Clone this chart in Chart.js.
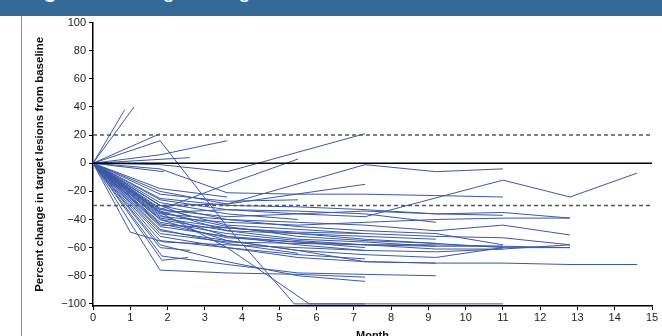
<!DOCTYPE html>
<html>
<head>
<meta charset="utf-8">
<script src="https://cdn.jsdelivr.net/npm/chart.js@4.4.1/dist/chart.umd.min.js"></script>
<style>
    html, body {
        margin: 0;
        padding: 0;
        width: 662px;
        height: 336px;
        overflow: hidden;
        background: #fff;
    }
    #header {
        position: absolute;
        left: 0;
        top: 0;
        width: 662px;
        height: 16px;
        background: #356a98;
        overflow: hidden;
    }
    #header span {
        position: absolute;
        left: 25px;
        top: -21px;
        font-size: 21px;
        font-family: "Liberation Sans", Arial, sans-serif;
        color: #fff;
        white-space: nowrap;
    }
    #edge {
        position: absolute;
        left: 21px;
        top: 16px;
        width: 1px;
        height: 320px;
        background: #6a95c2;
    }
    #wrap {
        position: absolute;
        left: 22px;
        top: 13px;
        width: 640px;
        height: 338px;
    }
</style>
</head>
<body>
<div id="header"><span><b>Figure 2</b> Change in target lesions over time</span></div>
<div id="edge"></div>
<div id="wrap"><canvas id="spider"></canvas></div>

<script>
// ============================================
// Data
// ============================================

const xTicks = [0, 1, 2, 3, 4, 5, 6, 7, 8, 9, 10, 11, 12, 13, 14, 15];
const yTicks = [-100, -80, -60, -40, -20, 0, 20, 40, 60, 80, 100];

// Reference levels: +20% (progression), -30% (response), baseline
const dashedLevels = [20, -30];
const baselineLevel = 0;

// One entry per patient: months of assessment and % change at each
const trackMonths = [
    [0, 0.85],
    [0, 1.1],
    [0, 1.8],
    [0, 1.8, 3.6, 5.4, 7.3, 9.2, 11],
    [0, 1.8, 3.6],
    [0, 2.6],
    [0, 1.8, 3.6, 7.3],
    [0, 1.9],
    [0, 1.8, 3.6, 7.3, 9.2, 11],
    [0, 1.8, 3.6, 5.5],
    [0, 1.8, 3.6, 7.3],
    [0, 1.8, 3.6, 5.5, 7.3, 11, 12.8, 14.6],
    [0, 1.8, 3.6, 5.5, 7.3, 9.2, 11],
    [0, 1.0, 1.9, 3.6, 5.5, 7.3],
    [0, 1.8, 3.6, 5.5, 7.3],
    [0, 1.85, 2.55],
    [0, 1.85, 3.6, 5.5, 7.3, 9.2],
    [0, 1.8, 3.6, 5.5, 7.3],
    [0, 1.8, 3.6, 5.8, 7.3],
    [0, 1.8, 3.6, 5.5, 7.3, 9.2, 11],
    [0, 1.8, 3.6, 5.5, 7.3, 9.2, 11, 12.8],
    [0, 1.8, 3.6, 5.5, 7.3, 9.2, 11, 12.8],
    [0, 1.8, 3.6, 5.5, 7.3, 9.2],
    [0, 1.8, 3.6, 5.5, 7.3, 9.2, 11],
    [0, 1.8, 3.6, 5.5, 7.3, 9.2, 11],
    [0, 1.8, 3.6, 5.5],
    [0, 1.8, 3.6, 5.5, 7.3, 9.2, 11, 12.8, 14.6],
    [0, 1.8, 3.6, 5.5, 7.3, 9.2, 11, 12.8],
    [0, 1.8, 3.6, 5.5, 7.3, 9.2, 11, 12.8],
    [0, 1.8, 3.6, 5.5, 7.3, 9.2, 11, 12.8],
    [0, 1.8, 3.6, 5.5, 7.3, 9.2, 11, 12.8],
    [0, 1.8, 3.6, 5.5, 7.3, 9.2, 11],
    [0, 1.8, 3.6, 5.5, 7.3, 9.2, 11],
    [0, 1.8, 3.6, 5.5, 7.3],
    [0, 1.8, 3.6, 5.5, 7.3, 9.2],
    [0, 1.8, 3.6, 5.5, 7.3, 9.2],
    [0, 1.8, 3.6, 5.5, 7.3],
    [0, 1.8, 3.6, 5.5],
    [0, 1.8, 2.6],
    [0, 1.8, 3.6, 5.5, 7.3, 9.2],
    [0, 1.8, 2.6],
    [0, 1.8, 3.6, 5.5, 7.3, 9.2],
    [0, 1.8, 3.6, 5.5, 7.3, 9.2, 11, 12.8],
    [0, 1.8, 3.6, 5.5],
    [0, 1.8, 3.6],
    [0, 1.8, 3.6, 5.5, 7.3],
];

const trackValues = [
    [0, 38],
    [0, 40],
    [0, 21],
    [0, 16, -45, -100, -100, -100, -100],
    [0, 6, 16],
    [0, 4],
    [0, -1, -6, 21],
    [0, -6],
    [0, -20, -29, -1, -6, -4],
    [0, -33, -15, 3],
    [0, -30, -29, -15],
    [0, -35, -33, -36, -38, -12, -24, -7],
    [0, -4, -21, -22, -22, -23, -24],
    [0, -49, -56, -58, -60, -62],
    [0, -76, -78, -79, -81],
    [0, -69, -67],
    [0, -66, -72, -78, -79, -80],
    [0, -58, -70, -80, -84],
    [0, -35, -60, -100, -100],
    [0, -30, -40, -45, -48, -50, -58],
    [0, -35, -45, -52, -55, -57, -60, -60],
    [0, -38, -42, -44, -42, -40, -39, -39],
    [0, -40, -48, -50, -52, -54],
    [0, -42, -50, -55, -58, -59, -59],
    [0, -45, -52, -58, -62, -63, -61],
    [0, -28, -36, -40],
    [0, -48, -55, -62, -70, -71, -71, -72, -72],
    [0, -33, -38, -36, -34, -36, -35, -39],
    [0, -36, -40, -42, -44, -48, -44, -51],
    [0, -32, -44, -47, -50, -52, -53, -58],
    [0, -50, -56, -57, -58, -58, -59, -60],
    [0, -40, -55, -62, -65, -67, -60],
    [0, -25, -30, -31, -33, -36, -37],
    [0, -55, -60, -65, -68],
    [0, -44, -46, -50, -54, -57],
    [0, -52, -60, -67, -70, -71],
    [0, -37, -52, -56, -60],
    [0, -47, -57, -64],
    [0, -30, -38],
    [0, -26, -33, -34, -36, -42],
    [0, -60, -62],
    [0, -34, -48, -54, -56, -59],
    [0, -43, -53, -56, -58, -61, -61, -58],
    [0, -22, -27, -26],
    [0, -18, -24],
    [0, -39, -46, -49, -50],
];

// ============================================
// Chart
// ============================================

const LINE_BLUE = "#3c59a8";
const FONT = "'Liberation Sans', Arial, Helvetica, sans-serif";

function levelDataset(level, color, dash, width) {
    return {
        data: [{ x: xTicks[0], y: level }, { x: xTicks[xTicks.length - 1], y: level }],
        borderColor: color,
        borderWidth: width,
        borderDash: dash,
        pointRadius: 0,
        showLine: true,
    };
}

function buildDatasets() {
    const sets = [];
    sets.push(levelDataset(baselineLevel, "#000", [], 1.5));
    dashedLevels.forEach((lv) => sets.push(levelDataset(lv, "#555", [4, 3], 1.5)));

    trackValues.forEach((vals, i) => {
        const months = trackMonths[i];
        sets.push({
            data: vals.map((v, j) => ({ x: months[j], y: v })),
            borderColor: LINE_BLUE,
            borderWidth: 1,
            pointRadius: 0,
            showLine: true,
            tension: 0,
        });
    });
    return sets;
}

const ctx = document.getElementById("spider").getContext("2d");

new Chart(ctx, {
    type: "scatter",
    data: { datasets: buildDatasets() },
    options: {
        responsive: true,
        maintainAspectRatio: false,
        animation: false,
        layout: { padding: { left: 0, top: 0, right: 10, bottom: 0 } },
        plugins: {
            legend: { display: false },
            tooltip: { enabled: false },
        },
        scales: {
            x: {
                type: "linear",
                min: 0,
                max: 15,
                afterBuildTicks: (scale) => {
                    scale.ticks = xTicks.map((v) => ({ value: v }));
                },
                afterFit: (scale) => {
                    scale.height = 45;
                },
                grid: {
                    drawOnChartArea: false,
                    drawTicks: true,
                    tickLength: 4,
                    color: "#000",
                },
                border: { display: true, color: "#000", width: 1.5 },
                ticks: {
                    padding: 1,
                    color: "#222",
                    font: { family: FONT, size: 11 },
                    maxRotation: 0,
                },
                title: {
                    display: true,
                    text: "Month",
                    color: "#111",
                    font: { family: FONT, size: 11, weight: "bold" },
                    padding: { top: 0, bottom: 8 },
                },
            },
            y: {
                type: "linear",
                min: -101.5,
                max: 100,
                afterBuildTicks: (scale) => {
                    scale.ticks = yTicks.map((v) => ({ value: v }));
                },
                afterFit: (scale) => {
                    scale.width = 71;
                },
                grid: {
                    drawOnChartArea: false,
                    drawTicks: true,
                    tickLength: 4,
                    color: "#000",
                },
                border: { display: true, color: "#000", width: 1.5 },
                ticks: {
                    padding: 3,
                    color: "#222",
                    font: { family: FONT, size: 11 },
                    callback: (v) => (v < 0 ? "\u2212" + Math.abs(v) : String(v)),
                },
                title: {
                    display: true,
                    text: "Percent change in target lesions from baseline",
                    color: "#111",
                    font: { family: FONT, size: 11.5, weight: "bold" },
                    padding: { top: 11, bottom: 0 },
                },
            },
        },
    },
});
</script>
</body>
</html>
